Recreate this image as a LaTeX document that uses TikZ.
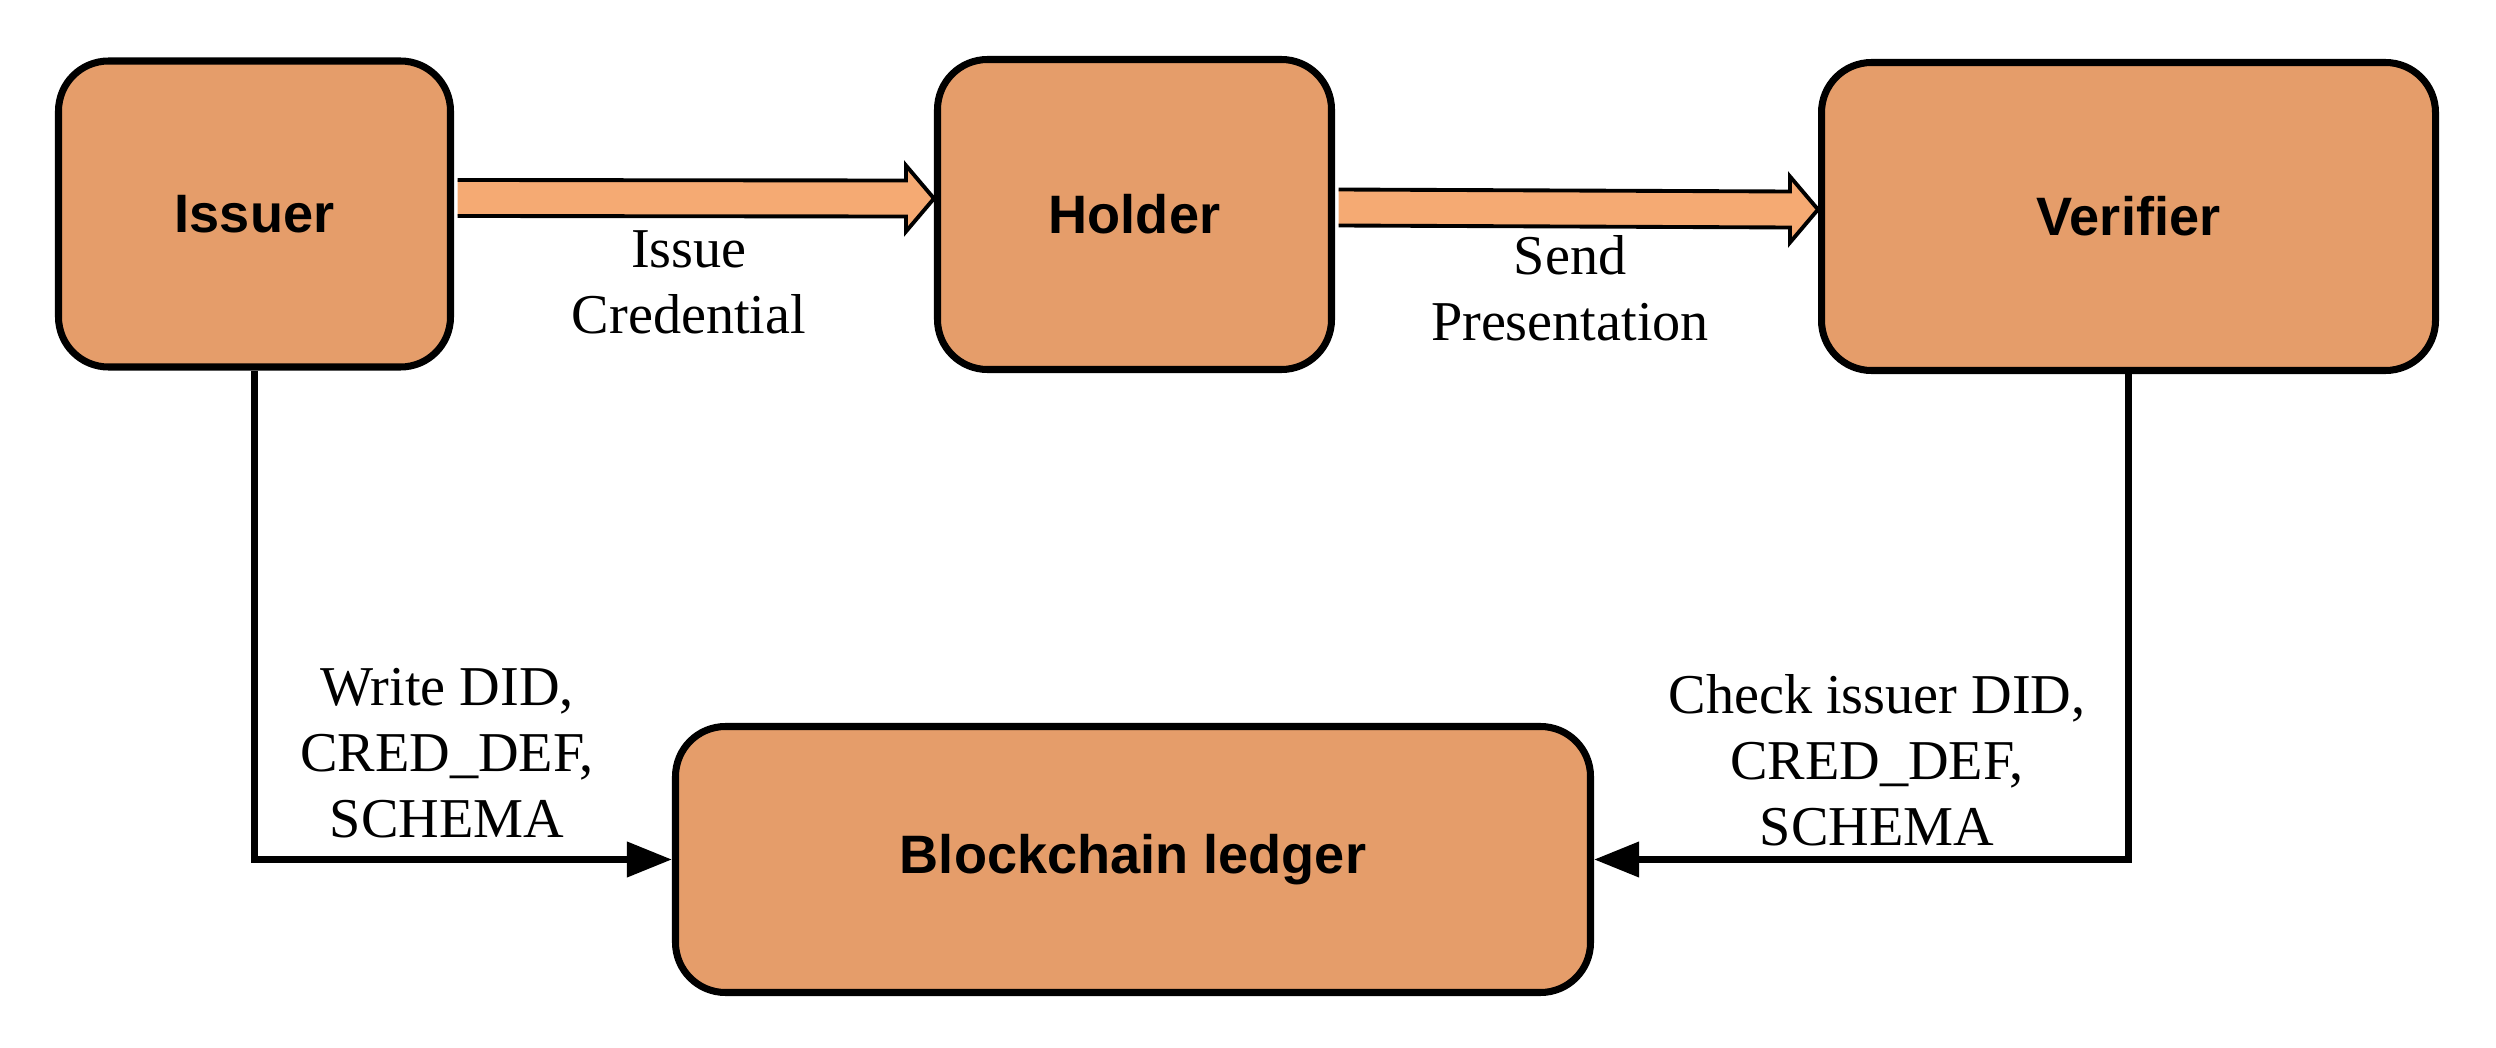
\documentclass[tikz,border=0pt]{standalone}
\usepackage{fontspec}
\setmainfont{Liberation Serif}
\newfontfamily\boxfont{Liberation Sans}
\usetikzlibrary{arrows.meta,calc}
\definecolor{boxorange}{RGB}{229,157,106}
\definecolor{arroworange}{RGB}{245,170,115}

\begin{document}
\begin{tikzpicture}[
	party/.style={draw, line width=2pt, fill=boxorange, rounded corners=0.5cm,
		font=\boxfont\bfseries\fontsize{15.4}{18}\selectfont},
	fat/.style={draw, line width=1.1pt, fill=arroworange, line join=miter},
	link/.style={line width=2pt, -{Triangle[length=4.5mm,width=3.4mm]}},
	lbl/.style={align=center, font=\fontsize{16}{18.8}\selectfont}
	]
	\def \sw{0.18}
	\def \hw{0.33}
	\def \hl{0.28}
	\def \ea{0.16}
	\def \eb{0.07}
	\useasboundingbox (0,0) rectangle (24.96,10.47);
	% the three parties and the ledger
	\node[party, minimum width=3.92cm, minimum height=3.06cm] (issuer) at (2.545,8.33) {Issuer};
	\node[party, minimum width=3.94cm, minimum height=3.10cm] (holder) at (11.345,8.325) {Holder};
	\node[party, minimum width=6.14cm, minimum height=3.08cm] (verifier) at (21.285,8.305) {Verifier};
	\node[party, minimum width=9.15cm, minimum height=2.66cm] (ledger) at (11.33,1.875) {Blockchain ledger};
	% block arrows
	\filldraw[fat] ($(issuer.east)+(0.035,\ea+\sw)$) -- ($(holder.west)+(-\hl,\ea+\sw)$)
		-- ($(holder.west)+(-\hl,\ea+\hw)$) -- ($(holder.west)+(0,\ea)$)
		-- ($(holder.west)+(-\hl,\ea-\hw)$) -- ($(holder.west)+(-\hl,\ea-\sw)$)
		-- ($(issuer.east)+(0.035,\ea-\sw)$);
	\filldraw[fat] ($(holder.east)+(0.035,\eb+\sw)$) -- ($(verifier.west)+(-\hl,\eb+\sw)$)
		-- ($(verifier.west)+(-\hl,\eb+\hw)$) -- ($(verifier.west)+(0,\eb)$)
		-- ($(verifier.west)+(-\hl,\eb-\hw)$) -- ($(verifier.west)+(-\hl,\eb-\sw)$)
		-- ($(holder.east)+(0.035,\eb-\sw)$);
	% ledger links
	\draw[link] (issuer.south) |- (ledger.west);
	\draw[link] (verifier.south) |- (ledger.east);
	\node[lbl] (issuelbl) at (6.89,7.65) {Issue\\Credential};
	\node[lbl] (sendlbl) at (15.70,7.585) {Send\\Presentation};
	\node[lbl] (writelbl) at (4.47,2.94) {Write DID,\\CRED\_DEF,\\SCHEMA};
	\node[lbl] (checklbl) at (18.77,2.87) {Check issuer DID,\\CRED\_DEF,\\SCHEMA};
\end{tikzpicture}
\end{document}
